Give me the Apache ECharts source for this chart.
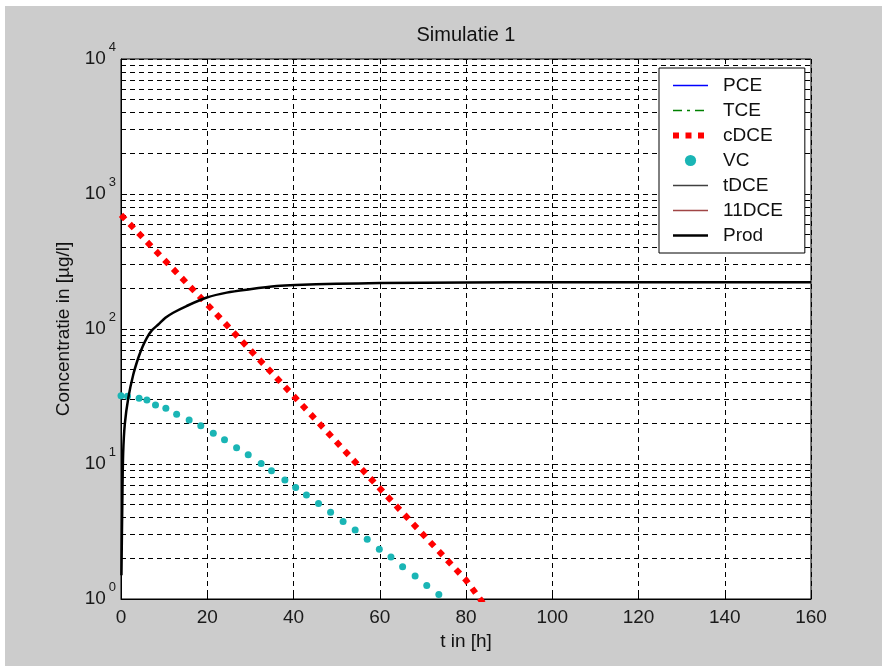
<!DOCTYPE html>
<html>
<head>
<meta charset="utf-8">
<script src="https://cdn.jsdelivr.net/npm/echarts@6/dist/echarts.min.js"></script>
<style>
html,body{margin:0;padding:0;background:#fff;}
#c{width:882px;height:666px;}
</style>
</head>
<body>
<div id="c"></div>
<script>
// ---- data ----
const seriesNames = ['PCE','TCE','cDCE','VC','tDCE','11DCE','Prod'];
const xTicks = [0,20,40,60,80,100,120,140,160];
const minorGrid = [2,3,4,5,6,7,8,9,20,30,40,50,60,70,80,90,200,300,400,500,600,700,800,900,2000,3000,4000,5000,6000,7000,8000,9000];

const cdceT = [0, 20, 40, 60, 80, 84];
const cdceC = [700, 152, 32, 6.6, 1.38, 0.93];

const vcT = [0, 1.5, 4.2, 6.0, 8.0, 10.4, 12.9, 15.8, 18.5, 21.4, 24.0, 26.8, 29.5, 32.5, 34.9, 38.0, 40.5, 43.0, 45.8, 48.6, 51.5, 54.3, 57.1, 59.9, 62.6, 65.3, 68.2, 70.9, 73.7];
const vcC = [32, 31.8, 30.7, 29.8, 27.4, 25.9, 23.4, 21.2, 19.2, 16.9, 15.1, 13.2, 11.7, 10.1, 8.9, 7.6, 6.7, 5.9, 5.1, 4.4, 3.75, 3.24, 2.77, 2.34, 2.05, 1.73, 1.48, 1.26, 1.08];

const prodT = [0.1, 0.3, 0.5, 0.9, 1.7, 2.85, 4.0, 5.0, 6.0, 7.2, 8.65, 10.3, 12.1, 15.2, 19.9, 24.5, 29.9, 36.1, 40.5, 50, 60, 80, 100, 160];
const prodC = [1.5, 5, 12, 20, 31, 46, 61, 74, 86, 98, 108, 121, 132, 148, 171, 186, 197, 208, 212, 216, 219, 221, 222, 222];

const pceT = [], pceC = [];
const tceT = [], tceC = [];
const tdceT = [], tdceC = [];
const dce11T = [], dce11C = [];

function pairs(t, c){ return t.map((v,i)=>[v, c[i]]); }

const FONT = '"Liberation Sans", Arial, sans-serif';
const chart = echarts.init(document.getElementById('c'), null, {renderer:'canvas'});

const gridDash = [5,4];
const hideSym = {opacity: 0};

chart.setOption({
  animation: false,
  backgroundColor: '#cccccc',
  textStyle: {fontFamily: FONT},
  title: {
    text: 'Simulatie 1',
    left: 466, top: 25, textAlign: 'center', padding: 0,
    textStyle: {fontSize: 20, fontWeight: 'normal', color: '#111', fontFamily: FONT}
  },
  graphic: [
    {type:'rect', shape:{x:0,y:0,width:882,height:6}, style:{fill:'#fff'}, silent:true},
    {type:'rect', shape:{x:0,y:0,width:5,height:666}, style:{fill:'#fff'}, silent:true}
  ],
  legend: {
    data: [
      {name: 'PCE', itemStyle: hideSym, lineStyle: {width: 1.5}},
      {name: 'TCE', itemStyle: hideSym, lineStyle: {width: 1.5}},
      {name: 'cDCE', itemStyle: hideSym, lineStyle: {width: 6, type: [6,6.5]}},
      {name: 'VC', itemStyle: {opacity: 1}},
      {name: 'tDCE', itemStyle: hideSym, lineStyle: {width: 1.5}},
      {name: '11DCE', itemStyle: hideSym, lineStyle: {width: 1.5}},
      {name: 'Prod', itemStyle: hideSym, lineStyle: {width: 2.5}}
    ],
    orient: 'vertical',
    left: 659, top: 68,
    itemWidth: 35, itemHeight: 14, itemGap: 6,
    padding: [8, 22, 8, 11],
    backgroundColor: '#fff',
    borderColor: '#000', borderWidth: 1, borderRadius: 0,
    textStyle: {fontSize: 19, color: '#111', fontFamily: FONT, padding: [0,0,0,10]}
  },
  grid: {
    left: 121, right: 71, top: 59, bottom: 67,
    show: true, backgroundColor: '#fff', borderColor: '#000', borderWidth: 1
  },
  xAxis: {
    type: 'value', min: 0, max: 160, interval: 20,
    name: 't in [h]', nameLocation: 'middle', nameGap: 31,
    nameTextStyle: {fontSize: 19, color: '#111', fontFamily: FONT},
    axisLine: {show: true, lineStyle: {color: '#000', width: 1}},
    axisTick: {show: true, inside: true, length: 6, lineStyle: {color: '#000'}},
    axisLabel: {fontSize: 19, color: '#1a1a1a', margin: 9, fontFamily: FONT,
      formatter: v => (xTicks.indexOf(v) >= 0 ? String(v) : '')},
    splitLine: {show: true, lineStyle: {color: '#000', width: 1, type: gridDash}}
  },
  yAxis: {
    type: 'log', logBase: 10, min: 1, max: 10000,
    name: 'Concentratie in [µg/l]', nameLocation: 'middle', nameGap: 48,
    nameTextStyle: {fontSize: 19, color: '#111', fontFamily: FONT},
    axisLine: {show: true, lineStyle: {color: '#000', width: 1}},
    axisTick: {show: true, inside: true, length: 6, lineStyle: {color: '#000'}},
    axisLabel: {
      margin: 5, color: '#1a1a1a',
      formatter: v => '{b|10}{s|' + Math.round(Math.log10(v)) + '}',
      rich: {
        b: {fontSize: 19, color: '#1a1a1a', fontFamily: FONT},
        s: {fontSize: 13, color: '#1a1a1a', fontFamily: FONT, padding: [0,0,24,3]}
      }
    },
    splitLine: {show: true, lineStyle: {color: '#000', width: 1, type: gridDash}}
  },
  series: [
    {
      name: '__grid', type: 'line', data: [], z: 1, silent: true,
      markLine: {
        silent: true, symbol: ['none','none'], z: 1, animation: false,
        label: {show: false},
        lineStyle: {color: '#000', width: 1, type: gridDash},
        emphasis: {disabled: true},
        data: minorGrid.map(v => ({yAxis: v}))
      }
    },
    {name: 'PCE', type: 'line', data: pairs(pceT, pceC), symbol: 'none', z: 3,
      lineStyle: {color: '#0000ff', width: 1.5}, itemStyle: {color: '#0000ff'}},
    {name: 'TCE', type: 'line', data: pairs(tceT, tceC), symbol: 'none', z: 3,
      lineStyle: {color: '#008000', width: 1.5, type: [9,5,3,5]}, itemStyle: {color: '#008000'}},
    {name: 'cDCE', type: 'line', data: pairs(cdceT, cdceC), symbol: 'none', z: 4, clip: true,
      lineStyle: {color: '#ff0000', width: 6, type: [6,6.5], cap: 'butt'}, itemStyle: {color: '#ff0000'}},
    {name: 'VC', type: 'line', data: pairs(vcT, vcC), symbol: 'circle', symbolSize: 7, showSymbol: true, showAllSymbol: true, z: 4, clip: true,
      lineStyle: {width: 0, opacity: 0}, itemStyle: {color: '#1ab5b5', borderWidth: 0}},
    {name: 'tDCE', type: 'line', data: pairs(tdceT, tdceC), symbol: 'none', z: 3,
      lineStyle: {color: '#404040', width: 1.5}, itemStyle: {color: '#404040'}},
    {name: '11DCE', type: 'line', data: pairs(dce11T, dce11C), symbol: 'none', z: 3,
      lineStyle: {color: '#a04545', width: 1.5}, itemStyle: {color: '#a04545'}},
    {name: 'Prod', type: 'line', data: pairs(prodT, prodC), symbol: 'none', z: 5, clip: true, smooth: 0.3,
      lineStyle: {color: '#000', width: 2.5}, itemStyle: {color: '#000'}}
  ]
});
</script>
</body>
</html>
